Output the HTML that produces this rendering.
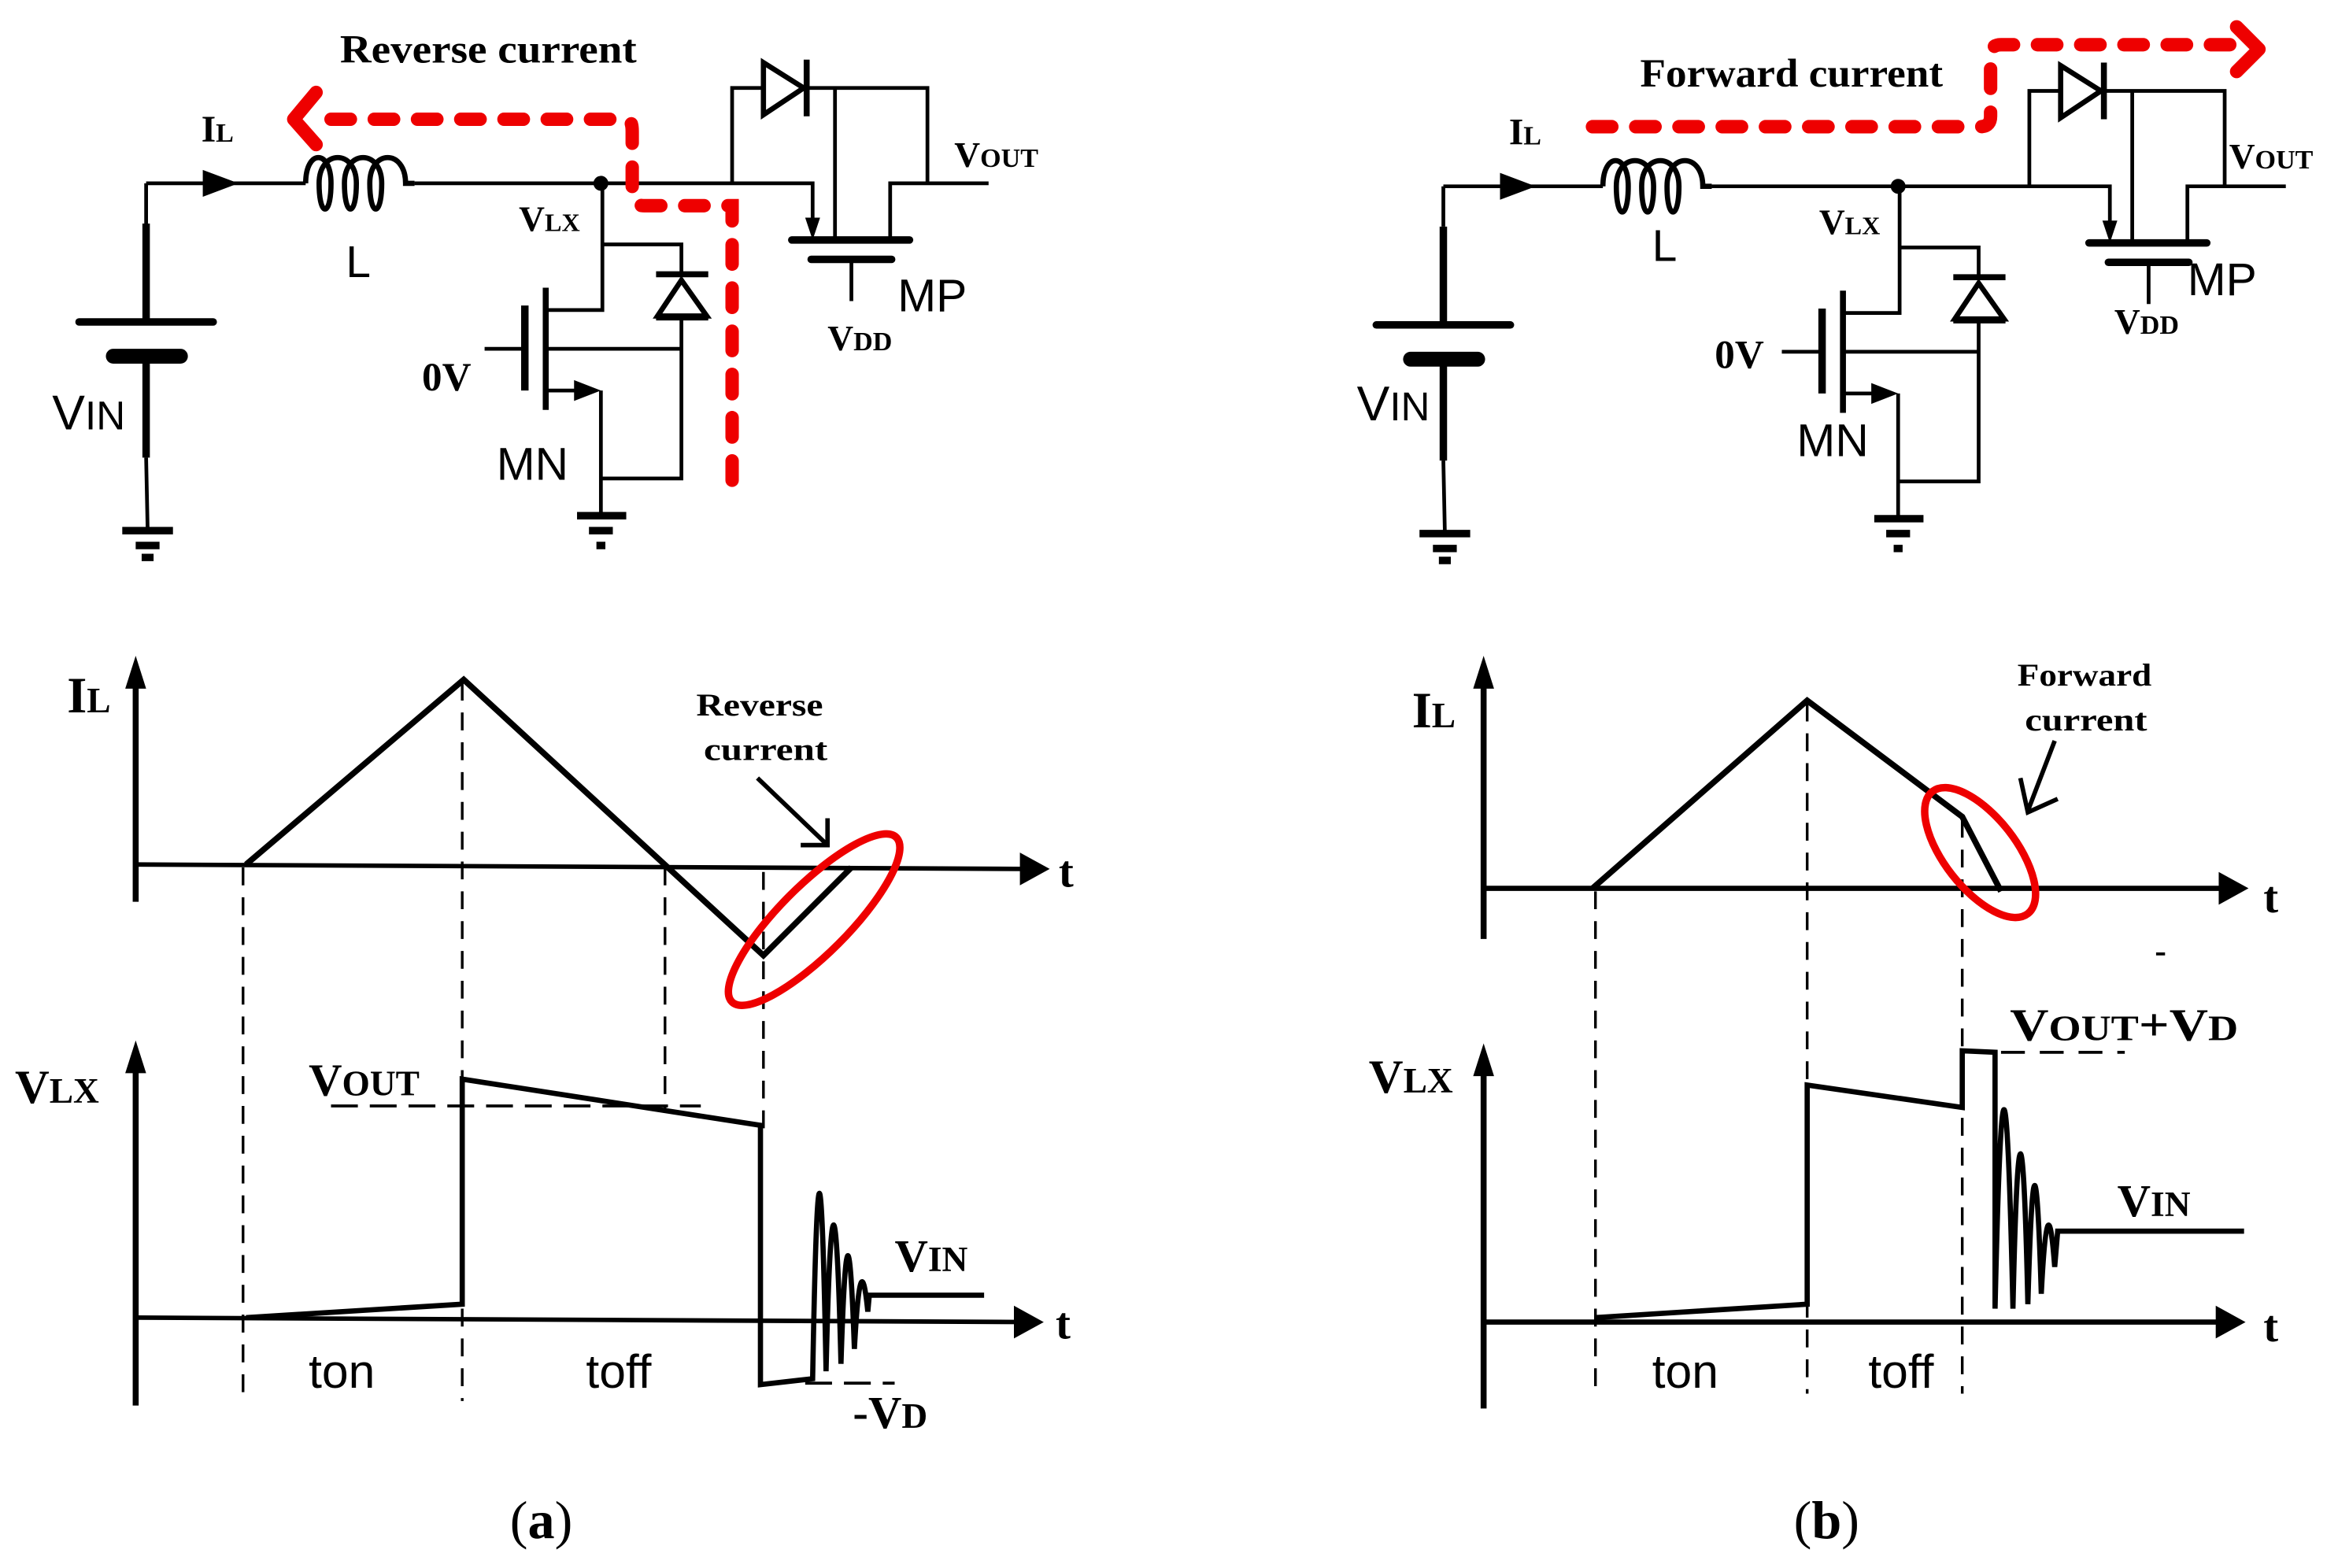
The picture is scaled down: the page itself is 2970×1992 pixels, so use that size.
<!DOCTYPE html>
<html><head><meta charset="utf-8"><style>
html,body{margin:0;padding:0;background:#fff;}
svg{display:block;}
.s{font-family:"Liberation Serif",serif;font-weight:bold;fill:#000;}
.a{font-family:"Liberation Sans",sans-serif;fill:#000;}
</style></head><body>
<svg width="2970" height="1992" viewBox="0 0 1568 1052" preserveAspectRatio="none" xmlns="http://www.w3.org/2000/svg">
<defs>
<g id="circ">
 <path d="M98,123 L98,150 M98,307 L99,355" stroke="#000" stroke-width="2.5" fill="none"/>
 <path d="M98,150 L98,217 M98,239 L98,307" stroke="#000" stroke-width="5" fill="none"/>
 <line x1="53" y1="216" x2="143" y2="216" stroke="#000" stroke-width="5" stroke-linecap="round"/>
 <line x1="76" y1="239" x2="121" y2="239" stroke="#000" stroke-width="10" stroke-linecap="round"/>
 <path d="M82,356 H116 M91,366 H107 M95,374 H103" stroke="#000" stroke-width="5"/>
 <path d="M98,123 H205" stroke="#000" stroke-width="2.5"/>
 <polygon points="136,114 160,123 136,132" fill="#000"/>
 <path d="M205,123 C205,100 222,100 222,123 C222,146 214,146 214,123 C214,100 239,100 239,123 C239,146 231,146 231,123 C231,100 256,100 256,123 C256,146 248,146 248,123 C248,100 272,100 272,123 L278,123" stroke="#000" stroke-width="3.5" fill="none"/>
 <path d="M278,123 H545 V150" stroke="#000" stroke-width="2.5" fill="none"/>
 <polygon points="540,146 550,146 545,161" fill="#000"/>
 <circle cx="403" cy="123" r="5" fill="#000"/>
 <path d="M404,123 V208 H367 M404,164 H457 V183 M457,213 V321 H404 M367,234 H457 M367,262 H390 M403,262 V345 M325,234 H352" stroke="#000" stroke-width="2.5" fill="none"/>
 <polygon points="385,255 403,262 385,269" fill="#000"/>
 <line x1="366" y1="193" x2="366" y2="275" stroke="#000" stroke-width="4"/>
 <line x1="352" y1="205" x2="352" y2="262" stroke="#000" stroke-width="5"/>
 <line x1="440" y1="184" x2="475" y2="184" stroke="#000" stroke-width="4"/>
 <polygon points="457,188 441,212 474,212" fill="none" stroke="#000" stroke-width="3.5"/>
 <line x1="440" y1="213" x2="475" y2="213" stroke="#000" stroke-width="4"/>
 <path d="M387,346 H420 M395,356 H411 M400,366 H406" stroke="#000" stroke-width="5"/>
 <path d="M491,123 V59 H512 M540,59 H622 V123 M560,59 V161 M597,161 V123 H663" stroke="#000" stroke-width="2.5" fill="none"/>
 <polygon points="512,42 539,59 512,77" fill="none" stroke="#000" stroke-width="3.5"/>
 <line x1="541" y1="40" x2="541" y2="78" stroke="#000" stroke-width="4"/>
 <line x1="531" y1="161" x2="610" y2="161" stroke="#000" stroke-width="5" stroke-linecap="round"/>
 <line x1="544" y1="174" x2="598" y2="174" stroke="#000" stroke-width="5" stroke-linecap="round"/>
 <line x1="571" y1="174" x2="571" y2="202" stroke="#000" stroke-width="2.5"/>
</g>
</defs>

<use href="#circ"/>
<path d="M222,80 H420 Q424,80 424,88 V130 Q424,138 432,138 H491 V326" stroke="#e00" stroke-width="9" fill="none" stroke-dasharray="13,16" stroke-linecap="round"/>
<path d="M212,62 L197,80 L212,97" stroke="#e00" stroke-width="9" fill="none" stroke-linecap="round" stroke-linejoin="round"/>
<text class="s" x="228" y="42" font-size="27" textLength="199" lengthAdjust="spacingAndGlyphs">Reverse current</text>
<text class="s" x="135" y="95" font-size="25">I<tspan font-size="18">L</tspan></text>
<text class="a" x="232" y="186" font-size="30">L</text>
<text class="s" x="348" y="155" font-size="24">V<tspan font-size="17">LX</tspan></text>
<text class="s" x="283" y="262" font-size="27">0V</text>
<text class="a" x="333" y="322" font-size="31">MN</text>
<text class="a" x="35" y="288" font-size="33">V<tspan font-size="27">IN</tspan></text>
<text class="a" x="602" y="209" font-size="31">MP</text>
<text class="s" x="555" y="235" font-size="24">V<tspan font-size="18">DD</tspan></text>
<text class="s" x="640" y="112" font-size="24">V<tspan font-size="18">OUT</tspan></text>

<g transform="translate(870,2)"><use href="#circ"/></g>
<path d="M1068,85 H1328 Q1335,85 1335,78 V37 Q1335,30 1342,30 H1500" stroke="#e00" stroke-width="9" fill="none" stroke-dasharray="13,16" stroke-linecap="round"/>
<path d="M1500,18 L1515,33 L1500,48" stroke="#e00" stroke-width="9" fill="none" stroke-linecap="round" stroke-linejoin="round"/>
<text class="s" x="1100" y="58" font-size="27" textLength="203" lengthAdjust="spacingAndGlyphs">Forward current</text>
<text class="s" x="1012" y="97" font-size="25">I<tspan font-size="18">L</tspan></text>
<text class="a" x="1108" y="175" font-size="30">L</text>
<text class="s" x="1220" y="157" font-size="24">V<tspan font-size="17">LX</tspan></text>
<text class="s" x="1150" y="247" font-size="27">0V</text>
<text class="a" x="1205" y="306" font-size="31">MN</text>
<text class="a" x="910" y="282" font-size="33">V<tspan font-size="27">IN</tspan></text>
<text class="a" x="1467" y="198" font-size="31">MP</text>
<text class="s" x="1418" y="224" font-size="24">V<tspan font-size="18">DD</tspan></text>
<text class="s" x="1495" y="113" font-size="24">V<tspan font-size="18">OUT</tspan></text>

<g stroke="#000" fill="none">
 <path d="M91,605 V455 M91,943 V712" stroke-width="4"/>
 <path d="M91,580 L690,583 M91,884 L690,887" stroke-width="3"/>
 <path d="M165,580 L311,456 L512,641 L571,582" stroke-width="4"/>
 <path d="M165,884 L310,875 V724 L510,755 V929 L545,925 C548,760 551,760 554,920 C557,790 561,790 564,915 C567,820 570,820 573,905 C576,850 579,850 582,880 L583,869 H660" stroke-width="3.5"/>
 <path d="M163,582 V940 M310,458 V940 M446,582 V745 M512,585 V757" stroke-width="1.8" stroke-dasharray="12,8"/>
 <path d="M222,742 H470 M540,928 H600" stroke-width="2" stroke-dasharray="18,8"/>
 <path d="M508,522 L555,567 M537,567 H555 V549" stroke-width="3"/>
 <ellipse cx="546" cy="617" rx="78" ry="23" transform="rotate(-45 546 617)" stroke="#e00" stroke-width="5"/>
</g>
<polygon points="84,462 91,440 98,462" fill="#000"/>
<polygon points="84,720 91,698 98,720" fill="#000"/>
<polygon points="684,572 704,583 684,594" fill="#000"/>
<polygon points="680,876 700,887 680,898" fill="#000"/>
<text class="s" x="710" y="595" font-size="30">t</text>
<text class="s" x="708" y="898" font-size="30">t</text>
<text class="s" x="45" y="478" font-size="34">I<tspan font-size="24">L</tspan></text>
<text class="s" x="10" y="740" font-size="32">V<tspan font-size="24">LX</tspan></text>
<text class="s" x="207" y="735" font-size="31">V<tspan font-size="24">OUT</tspan></text>
<text class="s" x="600" y="853" font-size="31">V<tspan font-size="24">IN</tspan></text>
<text class="s" x="572" y="958" font-size="31">-V<tspan font-size="24">D</tspan></text>
<text class="s" x="467" y="480" font-size="21" textLength="85" lengthAdjust="spacingAndGlyphs">Reverse</text>
<text class="s" x="472" y="510" font-size="21" textLength="83" lengthAdjust="spacingAndGlyphs">current</text>
<text class="a" x="207" y="931" font-size="32">ton</text>
<text class="a" x="393" y="931" font-size="32">toff</text>
<text class="s" x="342" y="1032" font-size="36" style="font-weight:normal">(<tspan font-weight="bold">a</tspan>)</text>

<g stroke="#000" fill="none">
 <path d="M995,630 V455 M995,945 V712" stroke-width="4"/>
 <path d="M995,596 L1495,596 M995,887 L1495,887" stroke-width="3.5"/>
 <path d="M1068,596 L1212,470 L1316,548 L1342,598" stroke-width="4"/>
 <path d="M1070,884 L1212,875 V728 L1316,743 V705 L1338,706 V878 C1342,700 1346,700 1350,878 C1353,740 1357,740 1360,875 C1363,770 1366,770 1369,868 C1372,810 1375,810 1378,850 L1380,826 H1505" stroke-width="3.5"/>
 <path d="M1070,598 V935 M1212,472 V935 M1316,550 V935" stroke-width="1.8" stroke-dasharray="12,8"/>
 <path d="M1342,706 H1425" stroke-width="2" stroke-dasharray="16,10"/>
 <path d="M1378,497 L1360,544 M1355,522 L1360,545 L1380,536" stroke-width="3"/>
 <ellipse cx="1328" cy="572" rx="52" ry="24" transform="rotate(52 1328 572)" stroke="#e00" stroke-width="5"/>
 <path d="M1446,640 H1452" stroke-width="2"/>
</g>
<polygon points="988,462 995,440 1002,462" fill="#000"/>
<polygon points="988,722 995,700 1002,722" fill="#000"/>
<polygon points="1488,585 1508,596 1488,607" fill="#000"/>
<polygon points="1486,876 1506,887 1486,898" fill="#000"/>
<text class="s" x="1518" y="612" font-size="30">t</text>
<text class="s" x="1518" y="900" font-size="30">t</text>
<text class="s" x="947" y="488" font-size="34">I<tspan font-size="24">L</tspan></text>
<text class="s" x="918" y="733" font-size="32">V<tspan font-size="24">LX</tspan></text>
<text class="s" x="1348" y="698" font-size="31" textLength="153" lengthAdjust="spacingAndGlyphs">V<tspan font-size="24">OUT</tspan>+V<tspan font-size="24">D</tspan></text>
<text class="s" x="1420" y="816" font-size="31">V<tspan font-size="24">IN</tspan></text>
<text class="s" x="1353" y="460" font-size="21" textLength="90" lengthAdjust="spacingAndGlyphs">Forward</text>
<text class="s" x="1358" y="490" font-size="21" textLength="82" lengthAdjust="spacingAndGlyphs">current</text>
<text class="a" x="1108" y="931" font-size="32">ton</text>
<text class="a" x="1253" y="931" font-size="32">toff</text>
<text class="s" x="1203" y="1032" font-size="36" style="font-weight:normal">(<tspan font-weight="bold">b</tspan>)</text>
</svg>
</body></html>
